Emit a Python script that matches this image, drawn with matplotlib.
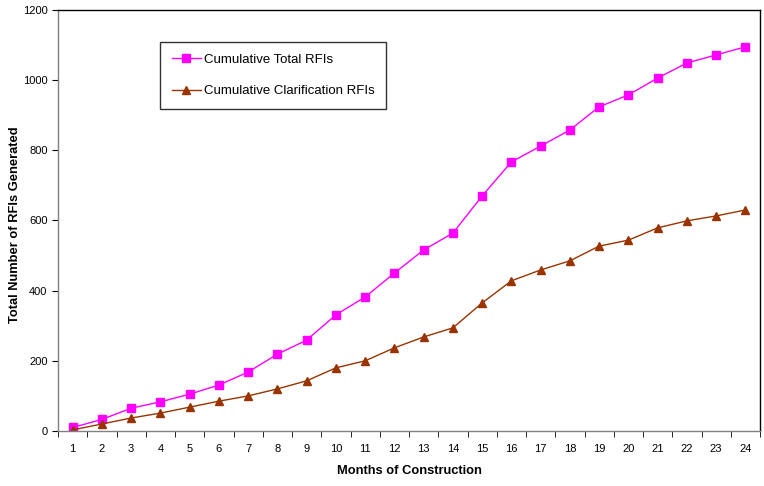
import numpy as np
import matplotlib.pyplot as plt

plt.rcParams['font.family'] = ['Liberation Sans', 'DejaVu Sans']

months = list(range(1, 25))
total_rfis = [10, 33, 65, 83, 105, 131, 168, 219, 259, 331, 382, 450,
              516, 564, 670, 767, 812, 858, 924, 958, 1006, 1049, 1072, 1095]
clarif_rfis = [3, 20, 37, 51, 68, 85, 100, 120, 143, 180, 200, 237,
               268, 294, 365, 428, 459, 485, 527, 544, 579, 599, 613, 630]

fig = plt.figure(figsize=(7.64, 4.86), dpi=100)
ax = fig.add_axes([58/764, 55/486, 702/764, 421/486])

ax.plot(months, total_rfis, color='#FF00FF', marker='s', markersize=5.5, lw=1,
        label='Cumulative Total RFIs')
ax.plot(months, clarif_rfis, color='#993300', marker='^', markersize=6, lw=1,
        label='Cumulative Clarification RFIs')

ax.set_xlim(0.5, 24.5)
ax.set_ylim(0, 1200)
ax.set_yticks(np.arange(0, 1201, 200))
ax.set_xticks(months)
ax.set_xticks(np.arange(0.5, 25, 1), minor=True)
ax.tick_params(axis='x', which='major', length=0, labelsize=8, pad=9)
ax.tick_params(axis='x', which='minor', length=4, direction='out', color='black')
ax.tick_params(axis='y', length=4, direction='out', labelsize=8, color='black')
for s in ax.spines.values():
    s.set_color('#808080')
    s.set_linewidth(1)
ax.spines['top'].set_color('black')
ax.spines['right'].set_color('black')

ax.set_xlabel('Months of Construction', fontsize=9.3, fontweight='bold', labelpad=8)
ax.set_ylabel('Total Number of RFIs Generated', fontsize=9.3, fontweight='bold')
ax.yaxis.set_label_coords(-37/702, 0.49)

leg = ax.legend(loc='upper left', bbox_to_anchor=(102/702, 1 - 32/421), fontsize=9.5,
                frameon=True, fancybox=False, edgecolor='black', borderpad=0.9,
                labelspacing=1.45, handlelength=2.2, handletextpad=0.2, borderaxespad=0)
leg.get_frame().set_linewidth(1)

fig.savefig('out.png', dpi=100)
